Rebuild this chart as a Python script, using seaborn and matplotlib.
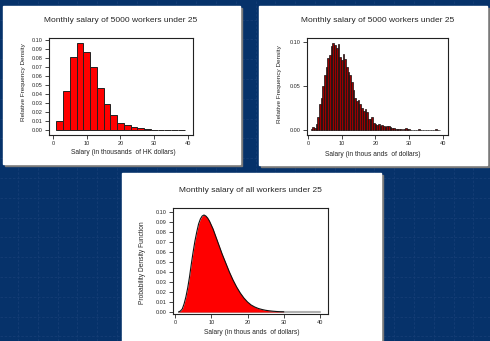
import matplotlib

matplotlib.use("Agg")
import matplotlib.pyplot as plt
import numpy as np
import seaborn as sns
from matplotlib.patches import Rectangle

# ---- data ----
# panel 1: 5000 workers, bins of width 2 (thousands of HK dollars)
hk_edges = list(range(1, 41, 2))
hk_density = [0.010, 0.0437, 0.0815, 0.0963, 0.0863, 0.0696, 0.047, 0.0285,
              0.0167, 0.0081, 0.0052, 0.0037, 0.0018, 0.0008, 0.0005,
              0.0, 0.0, 0.0, 0.0]

# panel 2: same workers, bins of width 0.5
fine_edges = [0.75 + 0.5 * i for i in range(78)]
fine_density = [0.001, 0.003, 0.002, 0.007, 0.015, 0.030, 0.036, 0.050,
                0.063, 0.072, 0.082, 0.085, 0.095, 0.099, 0.097, 0.093,
                0.098, 0.083, 0.079, 0.086, 0.081, 0.072, 0.066, 0.062,
                0.055, 0.045, 0.036, 0.033, 0.034, 0.030, 0.025, 0.022,
                0.024, 0.020, 0.013, 0.012, 0.015, 0.008, 0.007, 0.006,
                0.007, 0.004, 0.006, 0.004, 0.003, 0.004, 0.004, 0.003,
                0.002, 0.002, 0.001, 0.001, 0.001, 0.001, 0.000, 0.001,
                0.002, 0.001, 0.001, 0.000, 0.000, 0.000, 0.000, 0.000,
                0.001, 0.000, 0.000, 0.000, 0.000, 0.000, 0.000, 0.000,
                0.000, 0.000, 0.001, 0.000, 0.000]

# panel 3: population density curve
pdf_x = [1, 1.5, 2, 2.5, 3, 3.5, 4, 4.5, 5, 5.5, 6, 6.5, 7, 7.5, 8, 8.5, 9,
         9.5, 10, 10.5, 11, 11.5, 12, 13, 14, 15, 16, 17, 18, 19, 20, 21,
         22, 23, 24, 25, 26, 27, 28, 29, 30]
pdf_y = [0.000, 0.001, 0.003, 0.008, 0.015, 0.024, 0.035, 0.048, 0.060,
         0.071, 0.080, 0.088, 0.093, 0.096, 0.097, 0.096, 0.094, 0.091,
         0.087, 0.083, 0.078, 0.073, 0.068, 0.058, 0.049, 0.040, 0.032,
         0.025, 0.019, 0.014, 0.010, 0.007, 0.005, 0.0035, 0.0025, 0.0017,
         0.0012, 0.0008, 0.0005, 0.0003, 0.0002]

titles = ["Monthly salary of 5000 workers under 25",
          "Monthly salary of 5000 workers under 25",
          "Monthly salary of all workers under 25"]
xlabels = ["Salary (in thousands  of HK dollars)",
           "Salary (in thous ands  of dollars)",
           "Salary (in thous ands  of dollars)"]
ylabels = ["Relative Frequency Density", "Relative Frequency Density",
           "Probability Density Function"]

W, H = 490, 341
sns.set_style("white")
plt.rcParams["font.family"] = ["Liberation Sans", "DejaVu Sans"]

fig = plt.figure(figsize=(W / 100, H / 100), dpi=100)
fig.patch.set_facecolor("#06326a")


def rect(l, t, r, b):
    return [l / W, 1 - b / H, (r - l) / W, (b - t) / H]


def ftext(x, y, s, **kw):
    fig.text(x / W, 1 - y / H, s, ha="center", va="center", **kw)


# slide background with faint dashed grid
bg = fig.add_axes([0, 0, 1, 1])
bg.set_xlim(0, W)
bg.set_ylim(H, 0)
bg.axis("off")
for gx in np.arange(18, W, 19.8):
    bg.axvline(gx, color="#153d75", lw=0.6, ls=(0, (3, 2)), zorder=0)
for gy in np.arange(19.6, H, 19.8):
    bg.axhline(gy, color="#153d75", lw=0.6, ls=(0, (3, 2)), zorder=0)

# white panels with a grey shadow
for l, t, r, b in [(3, 6, 240, 164), (259, 6, 487, 165), (122, 173, 381, 345)]:
    bg.add_patch(Rectangle((l + 2, t + 2), r - l, b - t, color="#7a7a7a",
                           zorder=1))
    bg.add_patch(Rectangle((l, t), r - l, b - t, color="white", zorder=2))


def style(ax, xlim, ylim, yticks, ylabels_fmt):
    ax.set_xlim(*xlim)
    ax.set_ylim(*ylim)
    ax.set_xticks([0, 10, 20, 30, 40])
    ax.set_yticks(yticks)
    ax.set_yticklabels([ylabels_fmt.format(v) for v in yticks])
    ax.tick_params(direction="out", length=3, width=0.6, labelsize=4,
                   pad=1.5, bottom=True, left=True)
    for s in ax.spines.values():
        s.set_color("#222222")
        s.set_linewidth(0.8)
    ax.set_xlabel("")
    ax.set_ylabel("")


# panel 1
ax1 = fig.add_axes(rect(49, 38, 193, 135))
sns.histplot(x=[(a + 1) for a in hk_edges[:-1]], weights=hk_density,
             bins=hk_edges, stat="count", color="#ff0000", alpha=1,
             edgecolor="#222222", linewidth=0.7, ax=ax1)
style(ax1, (-1.2, 41.5), (-0.0056, 0.1022),
      [i / 100 for i in range(11)], "{:.2f}")
ftext(121, 21, titles[0], fontsize=6)
ftext(123, 152, xlabels[0], fontsize=4.8)
ftext(23, 82, ylabels[0], fontsize=4.6, rotation=90)

# panel 2
ax2 = fig.add_axes(rect(307, 38, 448, 135))
sns.histplot(x=[e + 0.25 for e in fine_edges[:-1]], weights=fine_density,
             bins=fine_edges, stat="count", color="#990000", alpha=1,
             edgecolor="#111111", linewidth=0.5, ax=ax2)
style(ax2, (-0.3, 41.5), (-0.0057, 0.1045), [0.0, 0.05, 0.10], "{:.2f}")
ftext(378, 21, titles[1], fontsize=6)
ftext(373, 154, xlabels[1], fontsize=4.8)
ftext(280, 84, ylabels[1], fontsize=4.6, rotation=90)

# panel 3
ax3 = fig.add_axes(rect(173, 208, 328, 314))
ax3.plot([1, 40], [0, 0], color="#b0b0b0", lw=1.5, zorder=1)
ax3.fill_between(pdf_x, pdf_y, color="#ff0000", lw=0, zorder=2)
sns.lineplot(x=pdf_x, y=pdf_y, color="#111111", lw=0.8, ax=ax3, zorder=3)
style(ax3, (-0.55, 42.2), (-0.002, 0.104),
      [i / 100 for i in range(11)], "{:.2f}")
ftext(250, 191, titles[2], fontsize=6)
ftext(252, 332, xlabels[2], fontsize=4.8)
ftext(142, 263, ylabels[2], fontsize=4.8, rotation=90)

fig.savefig("out.png", dpi=100, facecolor=fig.get_facecolor())
